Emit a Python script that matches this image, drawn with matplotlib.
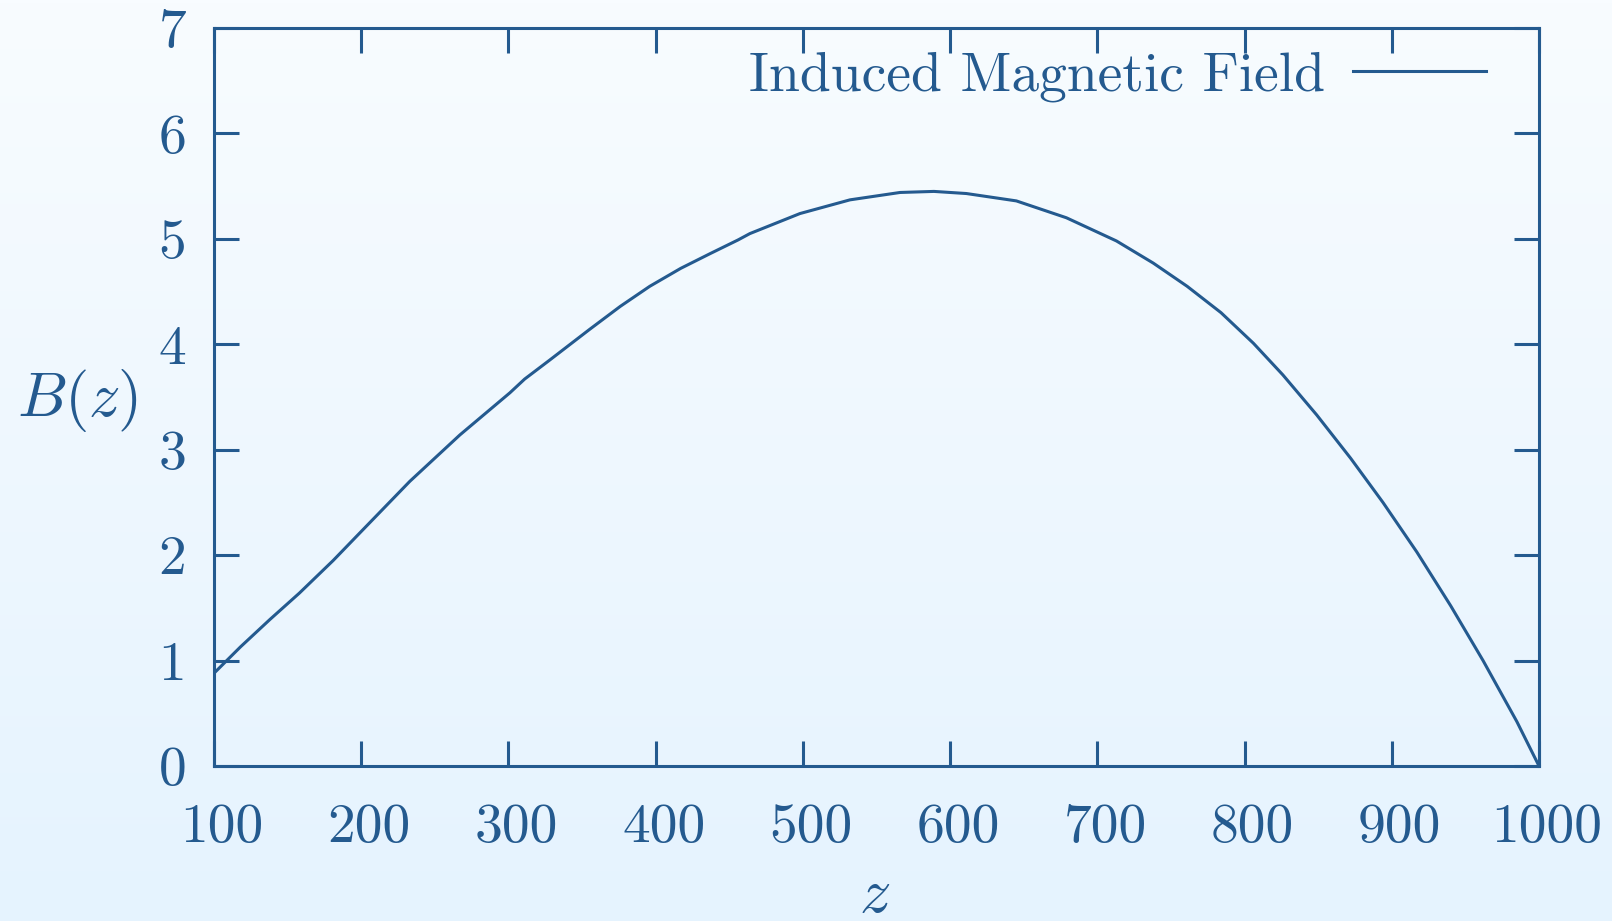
import numpy as np
import matplotlib
matplotlib.use("Agg")
import matplotlib.pyplot as plt
import matplotlib.transforms as mtransforms

z = [100, 118, 138, 158, 181, 199, 233, 267, 301, 311, 328, 355, 376, 396, 417, 437,
     456, 464, 498, 532, 566, 589, 611, 645, 679, 713, 738, 761, 784, 806, 826, 849,
     872, 894, 917, 940, 962, 985, 1000]
B = [0.88, 1.13, 1.39, 1.64, 1.95, 2.21, 2.70, 3.14, 3.54, 3.67, 3.85, 4.14, 4.36, 4.55, 4.72, 4.86,
     4.99, 5.05, 5.24, 5.37, 5.44, 5.45, 5.43, 5.36, 5.20, 4.98, 4.77, 4.55, 4.30, 4.01, 3.71, 3.33,
     2.92, 2.50, 2.03, 1.52, 1.00, 0.42, 0.0]
xticks = [100, 200, 300, 400, 500, 600, 700, 800, 900, 1000]
yticks = [0, 1, 2, 3, 4, 5, 6, 7]
legend_label = "Induced Magnetic Field"

C = "#245a8f"
plt.rcParams["font.family"] = ["cmr10", "DejaVu Serif"]
plt.rcParams["mathtext.fontset"] = "cm"
plt.rcParams["axes.formatter.use_mathtext"] = True

W, H, DPI = 1612, 921, 100
fig = plt.figure(figsize=(W / DPI, H / DPI), dpi=DPI)

# gradient background
bg = fig.add_axes([0, 0, 1, 1], zorder=-10)
top = np.array([0xf8, 0xfc, 0xff]) / 255
bot = np.array([0xe5, 0xf3, 0xfe]) / 255
t = np.linspace(0, 1, 256)[:, None]
grad = top[None, :] * (1 - t) + bot[None, :] * t
bg.imshow(grad[:, None, :].repeat(2, axis=1), aspect="auto", extent=[0, 1, 0, 1])
bg.set_axis_off()

l, r, tp, bt = 214, 1539, 28, 766
ax = fig.add_axes([l / W, 1 - bt / H, (r - l) / W, (bt - tp) / H])
ax.set_facecolor("none")

ax.plot(z, B, color=C, lw=2.2, label=legend_label, solid_joinstyle="round")

ax.set_xlim(100, 1000)
ax.set_ylim(0, 7)
ax.set_xticks(xticks)
ax.set_yticks(yticks)
ax.set_xticklabels([str(v) for v in xticks])
ax.set_yticklabels([str(v) for v in yticks])

for s in ax.spines.values():
    s.set_color(C)
    s.set_linewidth(2.2)

ax.tick_params(which="both", direction="in", length=18, width=2.2, color=C,
               labelcolor=C, labelsize=40, top=True, right=True)
ax.tick_params(axis="x", pad=27)
ax.tick_params(axis="y", pad=20)

offset = mtransforms.ScaledTranslation(8 / DPI, 0, fig.dpi_scale_trans)
for lab in ax.get_xticklabels():
    lab.set_transform(lab.get_transform() + offset)

ax.set_xlabel("$z$", fontsize=45, color=C)
ax.set_ylabel("$B(z)$", fontsize=45, color=C, rotation=0)
ax.yaxis.set_label_coords((77 - l) / (r - l), (bt - 400) / (bt - tp))
ax.xaxis.set_label_coords((875 - l) / (r - l), (bt - 896) / (bt - tp))
ax.yaxis.label.set_verticalalignment("center")
ax.yaxis.label.set_horizontalalignment("center")
ax.xaxis.label.set_verticalalignment("center")

leg = ax.legend(loc="center right", frameon=False, markerfirst=False, fontsize=40,
                handlelength=2.4, handletextpad=0.5, borderpad=0, borderaxespad=0,
                bbox_to_anchor=(1486 / W, 1 - 77 / H), bbox_transform=fig.transFigure,
                labelcolor=C)

fig.savefig("out.png", dpi=DPI)
